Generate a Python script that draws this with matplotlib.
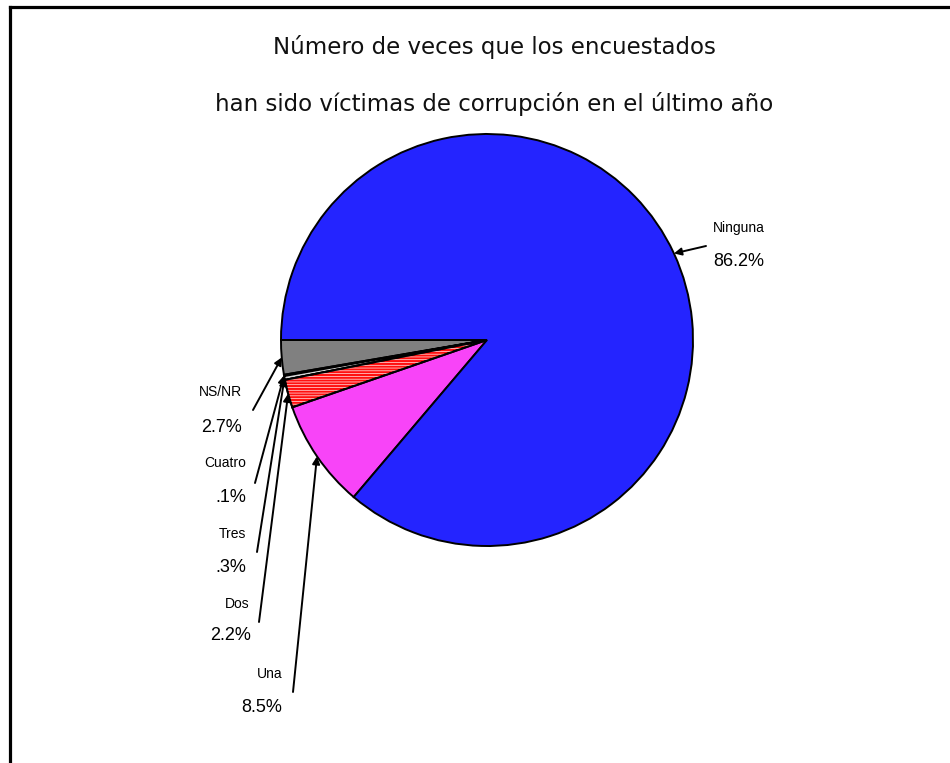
import matplotlib
matplotlib.use('Agg')
import matplotlib.pyplot as plt
import numpy as np
from matplotlib.patches import Wedge
from matplotlib.lines import Line2D

# ---- data ----
categories = ["NS/NR", "Cuatro", "Tres", "Dos", "Una", "Ninguna"]
values = [2.7, 0.1, 0.3, 2.2, 8.5, 86.2]
pct_labels = ["2.7%", ".1%", ".3%", "2.2%", "8.5%", "86.2%"]
colors = ["#808080", "#303030", "#d8d8d8", "#ff1010", "#f844f8", "#2424ff"]
title_lines = ["Número de veces que los encuestados",
               "han sido víctimas de corrupción en el último año"]

W, H = 950, 763
fig = plt.figure(figsize=(9.5, 7.63), dpi=100)
ax = fig.add_axes([0, 0, 1, 1])

cx, cy, R = 487, H - 340, 206
wedges, _ = ax.pie(values, colors=colors, startangle=180, counterclock=True,
                   center=(cx, cy), radius=R,
                   wedgeprops=dict(edgecolor='black', linewidth=1.4))
ax.set_xlim(0, W)
ax.set_ylim(0, H)
ax.set_aspect('equal')
ax.axis('off')

# hatch overlay for the red slice (thin white stripes)
plt.rcParams['hatch.linewidth'] = 0.45
wd = wedges[3]
hatch = Wedge((cx, cy), R, wd.theta1, wd.theta2, facecolor='none',
              edgecolor='white', linewidth=0, hatch='------', zorder=wd.get_zorder() + 0.1)
ax.add_patch(hatch)
outline = Wedge((cx, cy), R, wd.theta1, wd.theta2, fill=False,
                edgecolor='black', linewidth=1.4, zorder=wd.get_zorder() + 0.2)
ax.add_patch(outline)

# label layout (pixel positions, y measured from top)
name_pos = {"NS/NR": (242, 392), "Cuatro": (246, 463), "Tres": (246, 534),
            "Dos": (249, 604), "Una": (282, 674), "Ninguna": (713, 228)}
pct_pos = {"NS/NR": (242, 427), "Cuatro": (246, 497), "Tres": (246, 567),
           "Dos": (251, 636), "Una": (282, 707), "Ninguna": (713, 261)}
tail_pos = {"NS/NR": (253, 410), "Cuatro": (255, 483), "Tres": (257, 552),
            "Dos": (259, 622), "Una": (293, 692), "Ninguna": (706, 246)}

for w, cat, pl in zip(wedges, categories, pct_labels):
    ang = np.deg2rad((w.theta1 + w.theta2) / 2)
    tip = (cx + R * np.cos(ang), cy + R * np.sin(ang))
    ha = 'left' if cat == "Ninguna" else 'right'
    nx, ny = name_pos[cat]
    px, py = pct_pos[cat]
    ax.text(nx, H - ny, cat, ha=ha, va='center', fontsize=10,
            family='Liberation Sans', color='black')
    ax.text(px, H - py, pl, ha=ha, va='center', fontsize=13,
            family='Liberation Sans', color='black')
    tx, ty = tail_pos[cat]
    ax.annotate("", xy=tip, xytext=(tx, H - ty),
                arrowprops=dict(arrowstyle='-|>', lw=1.4, color='black',
                                shrinkA=0, shrinkB=0, mutation_scale=11))

# title
ax.text(494, H - 47, title_lines[0], ha='center', va='center', fontsize=16.5,
        family='DejaVu Sans', color='#111111')
ax.text(494, H - 104, title_lines[1], ha='center', va='center', fontsize=16.5,
        family='DejaVu Sans', color='#111111')

# frame lines (top and left)
ax.add_line(Line2D([10, W], [H - 7, H - 7], color='black', lw=2.3, solid_capstyle='projecting'))
ax.add_line(Line2D([10, 10], [H - 7, 0], color='black', lw=2.3, solid_capstyle='projecting'))

fig.savefig('out.png', dpi=100, facecolor='white')
